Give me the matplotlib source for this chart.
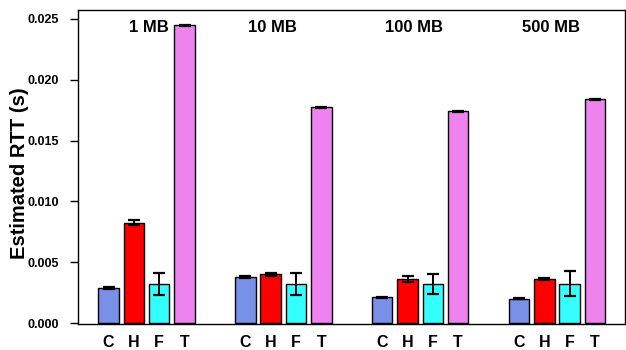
import matplotlib
matplotlib.use("Agg")
import matplotlib.pyplot as plt
import numpy as np

groups = ["1 MB", "10 MB", "100 MB", "500 MB"]
methods = ["C", "H", "F", "T"]
colors = ["#7890E8", "#FF0000", "#33FFFF", "#EE82EE"]

rtt_1mb = [0.00290, 0.00825, 0.00320, 0.02450]
err_1mb = [0.00010, 0.00020, 0.00090, 0.00004]
rtt_10mb = [0.00378, 0.00400, 0.00320, 0.01775]
err_10mb = [0.00010, 0.00012, 0.00090, 0.00004]
rtt_100mb = [0.00210, 0.00365, 0.00322, 0.01740]
err_100mb = [0.00006, 0.00025, 0.00082, 0.00004]
rtt_500mb = [0.00200, 0.00362, 0.00325, 0.01840]
err_500mb = [0.00005, 0.00005, 0.00105, 0.00004]

values = [rtt_1mb, rtt_10mb, rtt_100mb, rtt_500mb]
errors = [err_1mb, err_10mb, err_100mb, err_500mb]

plt.rcParams['font.family'] = ['Liberation Sans', 'DejaVu Sans']

fig = plt.figure(figsize=(6.26, 3.5), dpi=100)
ax = fig.add_axes([78/626, 1-324/350, (625-78)/626, (324-10)/350])

first_center = 1.21
group_pitch = 5.407
bar_width = 0.81

xt, xl = [], []
for g, (vals, errs) in enumerate(zip(values, errors)):
    xs = first_center + g*group_pitch + np.arange(4)
    ax.bar(xs, vals, width=bar_width, color=colors, edgecolor="black", linewidth=1.0, zorder=2)
    ax.errorbar(xs, vals, yerr=errs, fmt="none", ecolor="black", elinewidth=1.4,
                capsize=4.5, capthick=1.6, zorder=3)
    xt.extend(xs)
    xl.extend(methods)

label_x = [2.80, 7.67, 13.28, 18.70]
for g, name in enumerate(groups):
    ax.text(label_x[g], 0.02430, name, ha="center", va="center",
            fontsize=12, fontweight="bold")

ax.set_xlim(0, 547/25.3)
ax.set_ylim(-0.00008, 0.02574)
ax.set_yticks([0.0, 0.005, 0.010, 0.015, 0.020, 0.025])
ax.set_yticklabels(["0.000", "0.005", "0.010", "0.015", "0.020", "0.025"])
ax.set_xticks(xt)
ax.set_xticklabels(xl, fontweight="bold", fontsize=11.5)
ax.tick_params(axis="x", length=0, pad=8)
ax.tick_params(axis="y", length=6, width=1, direction="out", labelsize=9, pad=8)
for lab in ax.get_yticklabels():
    lab.set_fontweight("bold")
ax.set_ylabel("Estimated RTT (s)", fontsize=14.5, fontweight="bold")
ax.yaxis.set_label_coords(-(78-29)/547, (324-173.5)/314)
for s in ax.spines.values():
    s.set_linewidth(1.0)

fig.savefig("out.png", dpi=100)
